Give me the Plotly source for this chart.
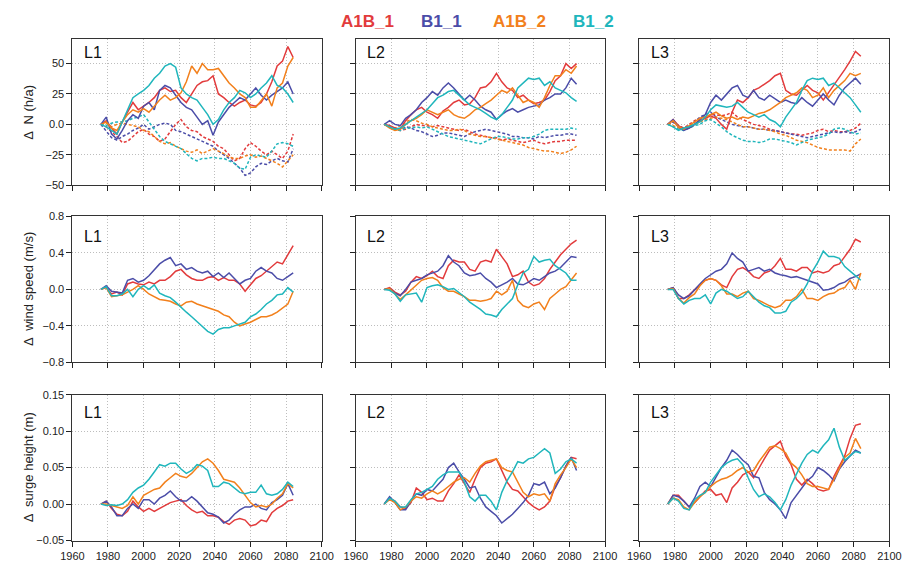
import plotly.graph_objects as go

# ---------------- data (x = years, every 3 years) ----------------
YEARS = [1976, 1979, 1982, 1985, 1988, 1991, 1994, 1997, 2000, 2003, 2006, 2009, 2012,
         2015, 2018, 2021, 2024, 2027, 2030, 2033, 2036, 2039, 2042, 2045, 2048, 2051,
         2054, 2057, 2060, 2063, 2066, 2069, 2072, 2075, 2078, 2081, 2084]

SCENARIOS = ["A1B_1", "B1_1", "A1B_2", "B1_2"]
COLORS = {"A1B_1": "#E23B3C", "B1_1": "#4B4DA8", "A1B_2": "#F2801C", "B1_2": "#20B6BC"}
LOCATIONS = ["L1", "L2", "L3"]

# ---- Delta N (h/a), solid lines ----
n_L1_A1B_1 = [0, 3, -3, -8, 2, 10, 18, 12, 15, 18, 22, 28, 30, 27, 28, 22, 18, 25, 32, 35, 36, 40, 25, 22, 18, 15, 18, 20, 16, 15, 18, 25, 35, 48, 52, 64, 55]
n_L1_B1_1 = [0, 6, -8, -12, -5, 3, 8, 5, 15, 18, 12, 28, 32, 30, 24, 18, 14, 12, 6, 0, 3, -9, 2, 8, 14, 18, 22, 20, 25, 30, 24, 20, 24, 27, 30, 35, 25]
n_L1_A1B_2 = [0, 2, -3, -5, 2, 8, 12, 10, 13, 10, 15, 20, 24, 20, 22, 26, 35, 48, 42, 50, 45, 45, 46, 40, 34, 30, 25, 22, 14, 14, 20, 25, 15, 30, 34, 48, 55]
n_L1_B1_2 = [0, -2, -5, -8, 2, 12, 22, 25, 28, 32, 38, 42, 48, 50, 47, 30, 25, 22, 20, 14, 8, 0, 4, 12, 18, 22, 28, 26, 22, 25, 30, 34, 40, 32, 30, 25, 18]
# ---- Delta N (h/a), dashed lines ----
nd_L1_A1B_1 = [0, -2, -6, -10, -15, -14, -10, -6, -4, -8, -10, -14, -12, -6, 0, 4, -2, -5, -6, -10, -12, -14, -18, -20, -25, -30, -28, -20, -15, -18, -22, -25, -22, -25, -28, -22, -8]
nd_L1_B1_1 = [0, -6, -11, -13, -10, -8, -5, -3, 0, -4, -2, 0, 1, 0, -5, -6, -8, -10, -12, -14, -16, -18, -22, -25, -28, -32, -36, -42, -40, -35, -32, -33, -30, -28, -30, -31, -20]
nd_L1_A1B_2 = [0, 1, -2, 0, 1, 0, -1, -2, -5, -6, -10, -14, -16, -15, -18, -20, -22, -23, -21, -24, -22, -20, -22, -24, -27, -28, -28, -26, -25, -27, -26, -28, -30, -32, -35, -30, -25]
nd_L1_B1_2 = [0, -1, 1, 2, 2, 3, 5, 6, 8, 2, -4, -10, -14, -16, -18, -20, -24, -28, -30, -28, -28, -27, -28, -28, -30, -32, -36, -37, -27, -25, -26, -27, -22, -16, -15, -16, -18]

n_L2_A1B_1 = [0, -1, -3, -4, 3, 8, 12, 14, 10, 8, 5, 11, 14, 18, 20, 16, 17, 22, 30, 31, 35, 42, 35, 30, 28, 22, 24, 20, 17, 18, 20, 27, 36, 40, 50, 46, 50]
n_L2_B1_1 = [0, 3, 0, -1, 5, 8, 12, 18, 22, 27, 24, 30, 34, 30, 25, 20, 24, 20, 15, 12, 10, 4, 8, 11, 13, 10, 12, 14, 15, 16, 20, 22, 25, 25, 30, 38, 33]
n_L2_A1B_2 = [0, -3, -5, -4, 0, 3, 5, 8, 12, 10, 8, 10, 12, 8, 6, 5, 8, 12, 14, 17, 20, 24, 28, 26, 30, 24, 18, 20, 18, 14, 22, 32, 40, 40, 45, 42, 48]
n_L2_B1_2 = [0, -2, -4, -3, 0, 3, 6, 9, 12, 17, 22, 24, 27, 28, 24, 20, 16, 14, 12, 9, 6, 4, 8, 14, 20, 30, 34, 38, 37, 38, 32, 35, 30, 28, 26, 22, 19]
nd_L2_A1B_1 = [0, -2, -4, -5, -4, -2, 0, -1, -1, -2, -1, -2, -3, -4, -5, -4, -6, -8, -9, -10, -11, -11, -13, -12, -13, -14, -15, -14, -13, -15, -16, -15, -14, -14, -13, -13, -13]
nd_L2_B1_1 = [0, -2, -4, -5, -2, -3, -5, -6, -8, -10, -9, -7, -7, -8, -9, -10, -8, -6, -5, -4, -5, -6, -7, -8, -10, -10, -11, -11, -12, -10, -11, -10, -9, -9, -8, -8, -9]
nd_L2_A1B_2 = [0, -2, -3, -1, 2, 4, 3, 1, 0, -2, -3, -4, -5, -5, -4, -5, -8, -9, -10, -10, -11, -12, -13, -14, -15, -16, -17, -19, -20, -21, -22, -22, -23, -24, -23, -21, -18]
nd_L2_B1_2 = [0, -2, -4, -5, -3, -3, -2, -3, -2, -4, -6, -8, -10, -11, -12, -13, -14, -15, -16, -14, -12, -10, -10, -11, -12, -12, -11, -11, -10, -8, -5, -4, -4, -4, -4, -3, -4]

n_L3_A1B_1 = [0, 4, -1, -4, -3, 0, 3, 5, 7, 5, 0, -4, 10, 20, 18, 22, 28, 30, 33, 36, 40, 42, 28, 25, 24, 28, 32, 28, 26, 20, 26, 32, 38, 45, 52, 60, 56]
n_L3_B1_1 = [0, 4, -2, -5, -3, 0, 4, 8, 18, 24, 20, 25, 30, 32, 24, 22, 28, 22, 20, 24, 21, 18, 20, 18, 17, 22, 18, 15, 20, 25, 20, 16, 24, 30, 34, 38, 33]
n_L3_A1B_2 = [0, 3, -2, -4, -1, 2, 5, 6, 8, 10, 7, 5, 6, 4, 6, 5, 7, 9, 10, 12, 15, 18, 22, 24, 26, 30, 28, 22, 24, 30, 22, 28, 32, 36, 42, 40, 42]
n_L3_B1_2 = [0, -2, -5, -3, -2, 0, 2, 6, 12, 16, 15, 14, 15, 18, 14, 10, 8, 6, 8, 4, 2, -2, 6, 12, 18, 28, 36, 38, 37, 38, 32, 34, 30, 26, 22, 16, 10]
nd_L3_A1B_1 = [0, 2, -1, -3, 0, 3, 5, 6, 8, 8, 7, 8, 10, 6, 4, 2, 0, -1, -2, -4, -5, -6, -7, -8, -8, -9, -8, -7, -5, -4, -6, -5, -6, -6, -5, -3, 1]
nd_L3_B1_1 = [0, 2, -2, -3, -2, 2, 6, 8, 10, 6, 4, 2, 0, -1, -2, -2, -3, -4, -4, -5, -5, -6, -7, -8, -9, -10, -11, -10, -9, -8, -7, -6, -7, -6, -7, -6, -4]
nd_L3_A1B_2 = [0, -1, -3, -4, -2, 0, 2, 4, 5, 6, 5, 4, 2, 0, -2, -2, -3, -4, -4, -5, -6, -8, -9, -11, -13, -14, -15, -17, -19, -20, -21, -21, -21, -21, -22, -16, -12]
nd_L3_B1_2 = [0, -2, -4, -5, -3, -1, 0, 3, 4, 1, -2, -6, -9, -11, -13, -14, -14, -15, -14, -12, -12, -13, -14, -15, -17, -15, -13, -12, -11, -10, -8, -4, -3, -4, -6, -8, -7]

# ---- Delta wind speed (m/s) ----
w_L1_A1B_1 = [0, 0.02, -0.05, -0.03, -0.06, 0.06, 0.08, 0.06, 0.05, 0.08, 0.06, 0.1, 0.1, 0.14, 0.2, 0.22, 0.16, 0.12, 0.1, 0.1, 0.13, 0.14, 0.1, 0.13, 0.1, 0.1, 0.06, -0.02, 0.05, 0.12, 0.15, 0.2, 0.24, 0.3, 0.28, 0.38, 0.48]
w_L1_B1_1 = [0, 0.04, -0.02, -0.03, -0.04, 0.1, 0.12, 0.08, 0.1, 0.15, 0.22, 0.28, 0.32, 0.35, 0.26, 0.28, 0.22, 0.24, 0.2, 0.18, 0.2, 0.14, 0.18, 0.13, 0.18, 0.12, 0.06, 0.1, 0.12, 0.2, 0.24, 0.2, 0.18, 0.12, 0.1, 0.14, 0.18]
w_L1_A1B_2 = [0, 0.02, -0.08, -0.07, -0.06, -0.03, 0.0, 0.04, 0.0, -0.05, -0.08, -0.11, -0.12, -0.13, -0.16, -0.18, -0.14, -0.13, -0.16, -0.18, -0.2, -0.22, -0.24, -0.28, -0.3, -0.36, -0.4, -0.38, -0.36, -0.33, -0.3, -0.3, -0.28, -0.25, -0.2, -0.16, -0.02]
w_L1_B1_2 = [0, 0.03, -0.07, -0.07, -0.05, 0.0, -0.08, 0.0, 0.04, 0.0, 0.05, -0.04, -0.07, -0.09, -0.14, -0.2, -0.25, -0.3, -0.35, -0.4, -0.46, -0.49, -0.44, -0.42, -0.42, -0.4, -0.38, -0.36, -0.3, -0.27, -0.22, -0.16, -0.12, -0.06, -0.05, 0.02, -0.03]

w_L2_A1B_1 = [0, 0.02, -0.03, -0.06, -0.02, 0.08, 0.14, 0.12, 0.15, 0.2, 0.14, 0.12, 0.26, 0.32, 0.3, 0.3, 0.22, 0.2, 0.3, 0.32, 0.3, 0.44, 0.36, 0.28, 0.14, 0.16, 0.2, 0.08, 0.04, 0.06, 0.12, 0.22, 0.3, 0.38, 0.44, 0.5, 0.54]
w_L2_B1_1 = [0, 0.01, -0.04, -0.07, 0.0, 0.08, 0.1, 0.12, 0.16, 0.18, 0.2, 0.26, 0.37, 0.3, 0.26, 0.18, 0.15, 0.16, 0.18, 0.12, 0.08, 0.02, 0.05, 0.08, 0.12, 0.06, 0.05, 0.08, 0.12, 0.1, 0.14, 0.18, 0.2, 0.24, 0.3, 0.36, 0.35]
w_L2_A1B_2 = [0, 0.01, -0.05, -0.11, -0.06, -0.01, 0.05, 0.1, 0.12, 0.13, 0.1, 0.02, -0.02, -0.02, -0.05, -0.08, -0.12, -0.12, -0.13, -0.12, -0.1, -0.02, -0.06, -0.02, 0.1, -0.12, -0.18, -0.2, -0.16, -0.14, -0.22, -0.1, -0.05, 0.0, 0.03, 0.1, 0.18]
w_L2_B1_2 = [0, -0.01, -0.05, -0.13, -0.06, -0.05, -0.04, -0.14, 0.02, 0.04, 0.05, 0.03, 0.0, 0.01, -0.03, -0.08, -0.14, -0.18, -0.22, -0.27, -0.28, -0.3, -0.22, -0.16, -0.1, 0.05, 0.18, 0.22, 0.36, 0.3, 0.32, 0.33, 0.26, 0.22, 0.18, 0.1, 0.1]

w_L3_A1B_1 = [0, 0.02, -0.1, -0.1, -0.06, 0.0, 0.05, 0.1, 0.12, 0.1, 0.05, 0.02, 0.14, 0.22, 0.24, 0.2, 0.14, 0.12, 0.18, 0.2, 0.26, 0.34, 0.22, 0.22, 0.2, 0.24, 0.24, 0.18, 0.2, 0.18, 0.2, 0.26, 0.28, 0.36, 0.44, 0.55, 0.52]
w_L3_B1_1 = [0, 0.02, -0.06, -0.1, -0.07, 0.0, 0.06, 0.12, 0.16, 0.2, 0.22, 0.28, 0.4, 0.34, 0.3, 0.2, 0.22, 0.24, 0.2, 0.22, 0.18, 0.16, 0.15, 0.13, 0.14, 0.12, 0.1, 0.08, 0.06, -0.01, 0.0, 0.02, 0.06, 0.08, 0.12, 0.14, 0.17]
w_L3_A1B_2 = [0, 0.01, -0.1, -0.15, -0.09, -0.05, 0.04, 0.1, 0.12, 0.1, 0.04, -0.05, -0.05, -0.08, -0.04, -0.02, -0.1, -0.12, -0.15, -0.18, -0.2, -0.18, -0.12, -0.12, -0.08, 0.0, -0.1, -0.1, -0.12, -0.08, -0.05, -0.04, 0.0, 0.02, 0.1, 0.0, 0.18]
w_L3_B1_2 = [0, 0.0, -0.1, -0.16, -0.12, -0.1, -0.1, -0.06, -0.16, -0.04, 0.0, -0.02, -0.06, -0.1, -0.08, -0.02, -0.08, -0.14, -0.18, -0.2, -0.26, -0.26, -0.24, -0.14, -0.1, -0.04, 0.06, 0.2, 0.3, 0.42, 0.36, 0.36, 0.34, 0.25, 0.2, 0.15, 0.1]

# ---- Delta surge height (m) ----
s_L1_A1B_1 = [0, 0.004, -0.006, -0.014, -0.016, -0.01, 0.004, -0.004, -0.01, -0.006, -0.01, -0.006, -0.002, 0.002, 0.004, 0.006, -0.002, -0.008, -0.012, -0.01, -0.016, -0.016, -0.018, -0.024, -0.028, -0.022, -0.02, -0.022, -0.03, -0.028, -0.022, -0.024, -0.012, -0.006, -0.002, 0.004, 0.006]
s_L1_B1_1 = [0, 0.004, -0.004, -0.016, -0.016, -0.006, 0.0, -0.006, 0.006, 0.006, 0.0, 0.008, 0.012, 0.018, 0.01, 0.004, 0.004, 0.01, 0.004, -0.004, -0.012, -0.014, -0.018, -0.026, -0.022, -0.014, -0.008, -0.004, -0.004, 0.0, -0.006, -0.008, 0.002, 0.006, 0.012, 0.028, 0.012]
s_L1_A1B_2 = [0, 0.0, -0.002, -0.004, -0.006, -0.002, 0.01, 0.0, 0.012, 0.016, 0.02, 0.022, 0.03, 0.036, 0.042, 0.038, 0.036, 0.042, 0.05, 0.058, 0.062, 0.056, 0.046, 0.034, 0.032, 0.03, 0.022, 0.012, 0.002, -0.004, -0.002, -0.004, 0.0, 0.008, 0.014, 0.028, 0.022]
s_L1_B1_2 = [0, -0.002, -0.001, -0.002, 0.0, 0.006, 0.016, 0.022, 0.026, 0.034, 0.044, 0.054, 0.052, 0.056, 0.056, 0.048, 0.042, 0.046, 0.054, 0.052, 0.046, 0.024, 0.024, 0.03, 0.028, 0.022, 0.016, 0.014, 0.016, 0.016, 0.026, 0.014, 0.012, 0.014, 0.02, 0.03, 0.024]

s_L2_A1B_1 = [0, 0.008, 0.004, -0.004, -0.006, 0.002, 0.022, 0.016, 0.006, 0.008, 0.004, 0.004, 0.018, 0.028, 0.04, 0.028, 0.016, 0.034, 0.05, 0.056, 0.058, 0.062, 0.046, 0.03, 0.02, 0.018, 0.01, 0.002, -0.004, -0.008, -0.004, 0.004, 0.024, 0.036, 0.052, 0.064, 0.062]
s_L2_B1_1 = [0, 0.01, 0.002, -0.008, -0.008, 0.004, 0.014, 0.012, 0.02, 0.018, 0.026, 0.034, 0.05, 0.056, 0.044, 0.034, 0.022, 0.024, 0.008, -0.004, -0.01, -0.016, -0.026, -0.02, -0.014, -0.006, 0.002, 0.012, 0.028, 0.026, 0.03, 0.014, 0.022, 0.036, 0.052, 0.064, 0.046]
s_L2_A1B_2 = [0, 0.006, 0.002, -0.008, -0.004, 0.004, 0.01, 0.008, 0.014, 0.018, 0.014, 0.018, 0.024, 0.03, 0.034, 0.036, 0.03, 0.042, 0.052, 0.058, 0.06, 0.062, 0.05, 0.046, 0.044, 0.03, 0.016, 0.01, 0.014, 0.012, 0.014, 0.004, 0.028, 0.04, 0.05, 0.062, 0.05]
s_L2_B1_2 = [0, 0.008, 0.004, -0.004, -0.004, 0.006, 0.014, 0.016, 0.02, 0.024, 0.034, 0.04, 0.044, 0.044, 0.044, 0.03, 0.01, 0.004, 0.012, 0.012, 0.004, -0.008, 0.016, 0.032, 0.044, 0.058, 0.056, 0.062, 0.064, 0.07, 0.076, 0.07, 0.042, 0.048, 0.058, 0.062, 0.056]

s_L3_A1B_1 = [0, 0.012, 0.012, 0.004, -0.004, 0.002, 0.01, 0.018, 0.02, 0.012, 0.014, 0.002, 0.022, 0.03, 0.04, 0.044, 0.036, 0.05, 0.062, 0.074, 0.08, 0.086, 0.066, 0.054, 0.034, 0.026, 0.034, 0.028, 0.02, 0.018, 0.02, 0.038, 0.052, 0.066, 0.09, 0.108, 0.11]
s_L3_B1_1 = [0, 0.012, 0.01, 0.004, -0.004, 0.008, 0.024, 0.03, 0.024, 0.038, 0.05, 0.06, 0.074, 0.068, 0.06, 0.054, 0.038, 0.036, 0.016, 0.006, 0.0, -0.008, -0.02, 0.002, 0.012, 0.022, 0.032, 0.038, 0.05, 0.046, 0.04, 0.032, 0.048, 0.058, 0.066, 0.074, 0.07]
s_L3_A1B_2 = [0, 0.008, 0.006, -0.004, -0.008, 0.002, 0.01, 0.016, 0.024, 0.03, 0.034, 0.036, 0.04, 0.046, 0.05, 0.044, 0.046, 0.058, 0.068, 0.078, 0.08, 0.076, 0.07, 0.056, 0.05, 0.04, 0.028, 0.024, 0.024, 0.022, 0.02, 0.034, 0.05, 0.064, 0.07, 0.09, 0.076]
s_L3_B1_2 = [0, 0.008, 0.004, -0.006, -0.008, 0.006, 0.012, 0.016, 0.03, 0.04, 0.05, 0.056, 0.06, 0.062, 0.054, 0.036, 0.02, 0.01, 0.014, 0.01, 0.002, -0.008, 0.006, 0.026, 0.042, 0.056, 0.068, 0.074, 0.07, 0.08, 0.088, 0.104, 0.078, 0.06, 0.066, 0.072, 0.07]

# ---- axis texts ----
X_TICKS = [1960, 1980, 2000, 2020, 2040, 2060, 2080, 2100]
ROW_TITLES = ["Δ  N (h/a)", "Δ  wind speed (m/s)", "Δ  surge height (m)"]
ROW_RANGES = [[-50, 70], [-0.8, 0.8], [-0.05, 0.15]]
ROW_TICKVALS = [[-50, -25, 0, 25, 50], [-0.8, -0.4, 0.0, 0.4, 0.8], [-0.05, 0.0, 0.05, 0.10, 0.15]]
ROW_TICKTEXT = [["−50", "−25", "0.0", "25", "50"],
                ["−0.8", "−0.4", "0.0", "0.4", "0.8"],
                ["−0.05", "0.00", "0.05", "0.10", "0.15"]]

SOLID = {
    (0, 0): [n_L1_A1B_1, n_L1_B1_1, n_L1_A1B_2, n_L1_B1_2],
    (0, 1): [n_L2_A1B_1, n_L2_B1_1, n_L2_A1B_2, n_L2_B1_2],
    (0, 2): [n_L3_A1B_1, n_L3_B1_1, n_L3_A1B_2, n_L3_B1_2],
    (1, 0): [w_L1_A1B_1, w_L1_B1_1, w_L1_A1B_2, w_L1_B1_2],
    (1, 1): [w_L2_A1B_1, w_L2_B1_1, w_L2_A1B_2, w_L2_B1_2],
    (1, 2): [w_L3_A1B_1, w_L3_B1_1, w_L3_A1B_2, w_L3_B1_2],
    (2, 0): [s_L1_A1B_1, s_L1_B1_1, s_L1_A1B_2, s_L1_B1_2],
    (2, 1): [s_L2_A1B_1, s_L2_B1_1, s_L2_A1B_2, s_L2_B1_2],
    (2, 2): [s_L3_A1B_1, s_L3_B1_1, s_L3_A1B_2, s_L3_B1_2],
}
DASHED = {
    (0, 0): [nd_L1_A1B_1, nd_L1_B1_1, nd_L1_A1B_2, nd_L1_B1_2],
    (0, 1): [nd_L2_A1B_1, nd_L2_B1_1, nd_L2_A1B_2, nd_L2_B1_2],
    (0, 2): [nd_L3_A1B_1, nd_L3_B1_1, nd_L3_A1B_2, nd_L3_B1_2],
}

# ---------------- layout geometry (pixels) ----------------
W, H = 917, 570
COL_PX = [(62, 318), (353, 609), (644, 901)]
ROW_PX = [(34, 183), (215, 364), (397, 546)]
LABEL_Y = [47.5, 235, 415]
FONT = "Liberation Sans, Arial, Helvetica, sans-serif"

fig = go.Figure()
layout = dict(width=W, height=H, margin=dict(l=0, r=0, t=0, b=0),
              paper_bgcolor="white", plot_bgcolor="white", showlegend=False,
              font=dict(family=FONT, size=11, color="#222"))
annotations = []

for r in range(3):
    for c in range(3):
        idx = r * 3 + c + 1
        sfx = "" if idx == 1 else str(idx)
        xa, ya = "x" + sfx, "y" + sfx
        x0, x1 = COL_PX[c]
        y0, y1 = ROW_PX[r]
        common = dict(showline=True, mirror=True, linecolor="#333", linewidth=1,
                      ticks="outside", ticklen=5, tickwidth=1, tickcolor="#222",
                      showgrid=True, gridcolor="#bdbdbd", griddash="1px,2px", gridwidth=1,
                      zeroline=False, tickfont=dict(family=FONT, size=11, color="#222"))
        layout["xaxis" + sfx] = dict(common, domain=[x0 / W, x1 / W], anchor=ya,
                                     range=[1960, 2100], tickvals=X_TICKS,
                                     showticklabels=(r == 2))
        layout["yaxis" + sfx] = dict(common, domain=[1 - y1 / H, 1 - y0 / H], anchor=xa,
                                     range=ROW_RANGES[r], tickvals=ROW_TICKVALS[r],
                                     ticktext=ROW_TICKTEXT[r], showticklabels=(c == 0))
        if (r, c) in DASHED:
            for name, vals in zip(SCENARIOS, DASHED[(r, c)]):
                fig.add_trace(go.Scatter(x=YEARS, y=vals, mode="lines", xaxis=xa, yaxis=ya,
                                         line=dict(color=COLORS[name], width=1.5, dash="3px,2px"),
                                         name=name + " (dashed)", hoverinfo="skip"))
        for name, vals in zip(SCENARIOS, SOLID[(r, c)]):
            fig.add_trace(go.Scatter(x=YEARS, y=vals, mode="lines", xaxis=xa, yaxis=ya,
                                     line=dict(color=COLORS[name], width=1.5),
                                     name=name))
        annotations.append(dict(text=LOCATIONS[c], xref="paper", yref="paper",
                                x=(x0 + 10) / W, y=1 - LABEL_Y[r] / H, xanchor="left",
                                yanchor="middle", showarrow=False,
                                font=dict(family=FONT, size=16, color="#111")))
    yc = (ROW_PX[r][0] + ROW_PX[r][1]) / 2
    annotations.append(dict(text=ROW_TITLES[r], xref="paper", yref="paper",
                            x=17 / W, y=1 - yc / H, textangle=-90, showarrow=False,
                            xanchor="center", yanchor="middle",
                            font=dict(family=FONT, size=13, color="#222")))

LEGEND_X = [365, 441, 521, 597]
for name, lx in zip(SCENARIOS, LEGEND_X):
    annotations.append(dict(text="<b>" + name + "</b>", xref="paper", yref="paper",
                            x=lx / W, y=1 - 16 / H,
                            xanchor="center", yanchor="middle", showarrow=False,
                            font=dict(family=FONT, size=17, color=COLORS[name])))

layout["annotations"] = annotations
fig.update_layout(**layout)
fig.write_html("out.html")
